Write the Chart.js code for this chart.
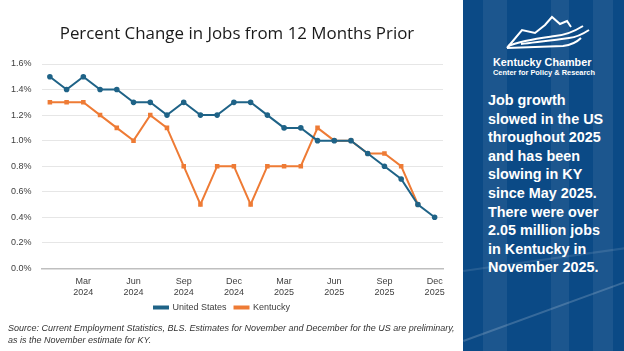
<!DOCTYPE html>
<html>
<head>
<meta charset="utf-8">
<script src="https://cdn.jsdelivr.net/npm/chart.js@4.4.1/dist/chart.umd.min.js"></script>
<style>
  html, body { margin:0; padding:0; width:624px; height:351px; overflow:hidden; background:#fff; font-family:"Liberation Sans", Arial, sans-serif; }
  #wrap { position:absolute; left:0; top:0; width:460px; height:333px; }
  #title { position:absolute; left:0; top:21px; width:474px; text-align:center; font-family:"Open Sans", sans-serif; font-size:16.9px; color:#1a1a1a; white-space:nowrap; }
  #panel { position:absolute; left:463px; top:0; width:161px; height:351px; background:#0b4a86; overflow:hidden; }
  .band { position:absolute; top:0; height:351px; background:rgba(255,255,255,0.07); }
  .diag { position:absolute; height:2px; background:rgba(255,255,255,0.18); transform-origin:0 0; }
  #msg { position:absolute; left:25px; top:91px; width:140px; color:#fff; font-weight:bold; font-size:14.4px; line-height:18.6px; white-space:nowrap; }
  #kc { position:absolute; left:30px; top:56px; color:#fff; font-weight:bold; font-size:10.8px; white-space:nowrap; }
  #cp { position:absolute; left:30px; top:68px; color:#fff; font-weight:bold; font-size:10px; white-space:nowrap; transform:scale(0.74); transform-origin:0 0; }
  #src { position:absolute; left:8px; top:322px; width:460px; font-style:italic; font-size:9px; line-height:12px; color:#333; white-space:nowrap; }
</style>
</head>
<body>
<div id="wrap"><canvas id="c" width="460" height="333"></canvas></div>
<div id="title">Percent Change in Jobs from 12 Months Prior</div>
<div id="src">Source: Current Employment Statistics, BLS. Estimates for November and December for the US are preliminary,<br>as is the November estimate for KY.</div>
<div id="panel">
  <div class="band" style="left:20px;width:24px;"></div>
  <div class="band" style="left:88px;width:18px;"></div>
  <div class="band" style="left:130px;width:20px;"></div>
  <div class="diag" style="left:0px;top:340px;width:200px;transform:rotate(-20deg);"></div>
  <div class="diag" style="left:0px;top:270px;width:180px;transform:rotate(-8deg);opacity:0.6;"></div>
  <svg style="position:absolute;left:0;top:0" width="161" height="60">
    <g fill="none" stroke="#fff" stroke-width="2" stroke-linejoin="miter">
      <path d="M44 48 L59 30 L72 33 L82 25 L89 17 L97 24 L104 21 L108 27"/>
      <path d="M45 46 C60 40 78 38 92 36 C104 35 112 31 120 26"/>
      <path d="M58 44 C74 42 92 40 106 38 C114 37 120 34 126 30"/>
      <path d="M44 48 L100 46 C108 45 114 42 118 38"/>
    </g>
  </svg>
  <div id="kc">Kentucky Chamber</div>
  <div id="cp">Center for Policy &amp; Research</div>
  <div id="msg">Job growth<br>slowed in the US<br>throughout 2025<br>and has been<br>slowing in KY<br>since May 2025.<br>There were over<br>2.05 million jobs<br>in Kentucky in<br>November 2025.</div>
</div>
<script>
const months = ["Jan 2024","Feb 2024","Mar 2024","Apr 2024","May 2024","Jun 2024","Jul 2024","Aug 2024","Sep 2024","Oct 2024","Nov 2024","Dec 2024",
                "Jan 2025","Feb 2025","Mar 2025","Apr 2025","May 2025","Jun 2025","Jul 2025","Aug 2025","Sep 2025","Oct 2025","Nov 2025","Dec 2025"];
const usValues = [1.5,1.4,1.5,1.4,1.4,1.3,1.3,1.2,1.3,1.2,1.2,1.3, 1.3,1.2,1.1,1.1,1.0,1.0,1.0,0.9,0.8,0.7,0.5,0.4];
const kyValues = [1.3,1.3,1.3,1.2,1.1,1.0,1.2,1.1,0.8,0.5,0.8,0.8, 0.5,0.8,0.8,0.8,1.1,1.0,1.0,0.9,0.9,0.8,0.5,null];
const shownTickMonths = ["Mar","Jun","Sep","Dec"];
const yTicks = [0,0.2,0.4,0.6,0.8,1.0,1.2,1.4,1.6];

const usColor = "#1f6387";
const kyColor = "#ee7b35";

const legendNudge = {
  id:"legendNudge",
  afterLayout(chart){ const l = chart.legend; if (l) { l.top -= 11; l.bottom -= 11; } }
};

new Chart(document.getElementById("c"), {
  type: "line",
  data: {
    labels: months,
    datasets: [
      { label:"United States", data:usValues, borderColor:usColor, backgroundColor:usColor, borderWidth:2, pointRadius:1.8, pointHoverRadius:2, tension:0 },
      { label:"Kentucky", data:kyValues, borderColor:kyColor, backgroundColor:kyColor, borderWidth:2, pointRadius:1.8, pointStyle:"rect", pointHoverRadius:2, tension:0 }
    ]
  },
  plugins:[legendNudge],
  options: {
    responsive:false, animation:false,
    layout:{ padding:{ left:1, right:17, top:64, bottom:0 } },
    plugins:{
      legend:{ position:"bottom", labels:{ color:"#404040", font:{ family:"Liberation Sans", size:9 }, boxWidth:14, boxHeight:2, padding:8 } },
      tooltip:{ enabled:false }
    },
    scales:{
      x:{ offset:true,
          grid:{ display:false, drawTicks:false },
          border:{ color:"#bfbfbf", width:1.5 },
          ticks:{ autoSkip:false, maxRotation:0, color:"#404040", font:{ family:"Liberation Sans", size:9 }, padding:8,
                  callback:function(v,i){ const p = months[i].split(" "); return shownTickMonths.includes(p[0]) ? [p[0],p[1]] : ""; } } },
      y:{ min:0, max:1.6,
          afterBuildTicks:(ax)=>{ ax.ticks = yTicks.map(v=>({value:v})); },
          grid:{ color:"#e6e6e6", drawTicks:false },
          border:{ display:false },
          ticks:{ color:"#404040", font:{ family:"Liberation Sans", size:9 }, padding:10,
                  callback:(v)=>Number(v).toFixed(1)+"%" } }
    }
  }
});
</script>
</body>
</html>
